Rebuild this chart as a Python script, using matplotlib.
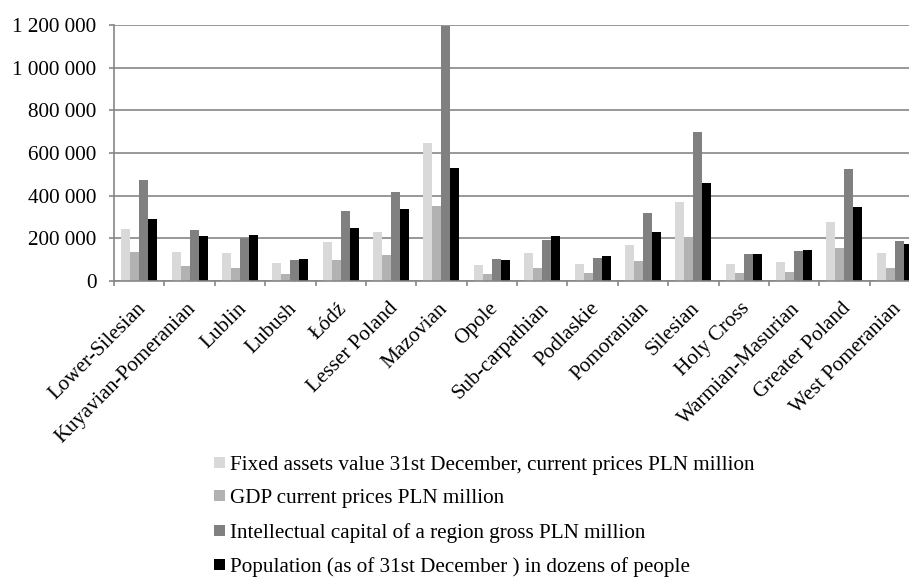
import matplotlib
matplotlib.use("Agg")
import matplotlib.pyplot as plt
import matplotlib.transforms as mtrans
import numpy as np
from matplotlib.ticker import FuncFormatter, FixedLocator

regions = ["Lower-Silesian", "Kuyavian-Pomeranian", "Lublin", "Lubush", "Łódź",
           "Lesser Poland", "Mazovian", "Opole", "Sub-carpathian", "Podlaskie",
           "Pomoranian", "Silesian", "Holy Cross", "Warmian-Masurian",
           "Greater Poland", "West Pomeranian"]

fixed_assets = [244000, 134500, 130000, 84500, 183000, 228000, 645500, 73500,
                133000, 80000, 170000, 369000, 80000, 89000, 276500, 130000]
gdp = [137000, 70000, 62500, 33000, 97000, 122000, 351500, 33000,
       62500, 36000, 92000, 206000, 39000, 43500, 153000, 61000]
intellectual = [475000, 237500, 203000, 100000, 329500, 415500, 1194000, 103000,
                190500, 109000, 317000, 697000, 126500, 139000, 525000, 186000]
population = [290500, 209500, 214000, 103000, 250000, 336000, 530000, 100000,
              212500, 117000, 229500, 459000, 126500, 145000, 347000, 172000]

series_labels = [
    "Fixed assets value 31st December, current prices PLN million",
    "GDP current prices PLN million",
    "Intellectual capital of a region gross PLN million",
    "Population (as of 31st December ) in dozens of people",
]
series = [fixed_assets, gdp, intellectual, population]
colors = ["#d9d9d9", "#b2b2b2", "#808080", "#000000"]

plt.rcParams["font.family"] = ["Liberation Serif", "DejaVu Serif"]

W, H = 909, 579
FS = 15.2
fig = plt.figure(figsize=(W / 100, H / 100), dpi=100)
left, right, top, bottom = 114, 920, 25, 281
ax = fig.add_axes([left / W, 1 - bottom / H, (right - left) / W, (bottom - top) / H])

n = len(regions)
x = np.arange(n) + 0.5
bw = 0.179
handles = []
for i, (vals, col) in enumerate(zip(series, colors)):
    b = ax.bar(x + (i - 1.5) * bw, vals, width=bw, color=col, edgecolor="none",
               label=series_labels[i], zorder=2)
    handles.append(b)

ax.set_xlim(0, n)
ax.set_ylim(0, 1200000)
ax.set_yticks(np.arange(0, 1200001, 200000))
ax.yaxis.set_major_formatter(FuncFormatter(lambda v, p: f"{int(v):,}".replace(",", " ")))
ax.yaxis.grid(True, color="#868686", linewidth=1.2, zorder=0)
ax.set_axisbelow(True)

ax.xaxis.set_major_locator(FixedLocator(np.arange(0, n + 1)))
ax.xaxis.set_minor_locator(FixedLocator(x))
ax.xaxis.set_major_formatter(plt.NullFormatter())
ax.set_xticklabels(regions, minor=True, rotation=45, ha="right", rotation_mode="anchor")
ax.tick_params(axis="x", which="minor", length=0, labelsize=FS, pad=13)
ax.tick_params(axis="x", which="major", length=3.6, color="#868686", width=1.2)
ax.tick_params(axis="y", length=3.6, color="#868686", width=1.2, labelsize=FS, pad=9)

shift = mtrans.ScaledTranslation(-3 / 100, 0, fig.dpi_scale_trans)
for lbl in ax.get_xticklabels(minor=True):
    lbl.set_transform(lbl.get_transform() + shift)

for s in ["top", "right"]:
    ax.spines[s].set_visible(False)
for s in ["left", "bottom"]:
    ax.spines[s].set_color("#868686")
    ax.spines[s].set_linewidth(1.2)

fig.legend(handles=handles, labels=series_labels, loc="upper left",
           bbox_to_anchor=(214 / W, 1 - 456 / H), frameon=False, fontsize=FS,
           handlelength=0.5, handleheight=0.42, handletextpad=0.25,
           labelspacing=0.68, borderaxespad=0, borderpad=0)

fig.savefig("out.png", dpi=100)
